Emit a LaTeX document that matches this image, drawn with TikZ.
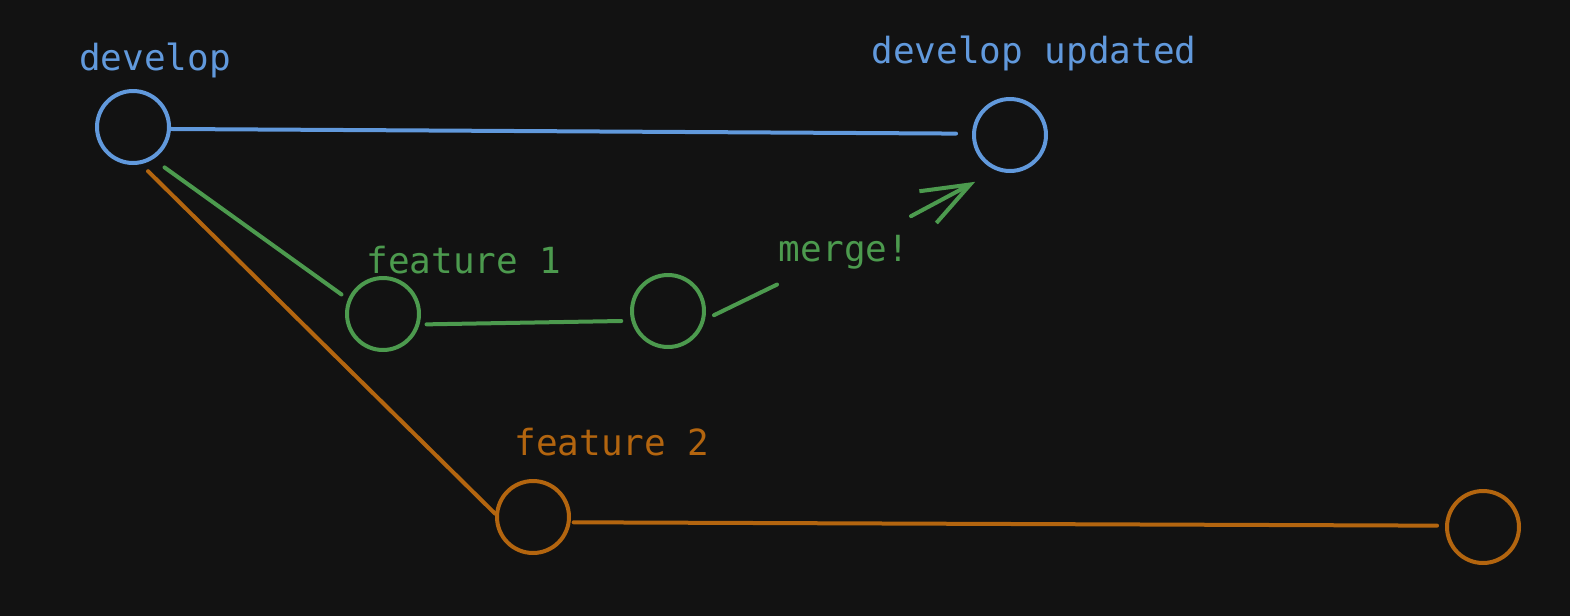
\documentclass[tikz,border=0pt]{standalone}
\usepackage{fontspec}
\setmonofont{DejaVu Sans Mono}
\usetikzlibrary{arrows.meta}
\definecolor{bg}{HTML}{121212}
\definecolor{devblue}{HTML}{6199DC}
\definecolor{featgreen}{HTML}{4C9A4E}
\definecolor{featorange}{HTML}{B3650F}
\begin{document}
\begin{tikzpicture}[x=0.5pt,y=-0.5pt,line width=2pt,line cap=round,
    commit/.style={circle,draw,minimum size=36pt,inner sep=0pt},
    label/.style={anchor=base,font=\ttfamily\fontsize{18}{20}\selectfont}]
		\fill[bg] (0,0) rectangle (1570,616);
		\useasboundingbox (0,0) rectangle (1570,616);
		% commits
		\node[commit,devblue] (dev) at (133,127) {};
		\node[commit,devblue] (upd) at (1010,135) {};
		\node[commit,featgreen] (f1a) at (383,314) {};
		\node[commit,featgreen] (f1b) at (668,311) {};
		\node[commit,featorange] (f2a) at (533,517) {};
		\node[commit,featorange] (f2b) at (1483,527) {};
		% labels
		\node[label,devblue] (devlbl) at (155,70) {develop};
		\node[label,devblue] (updlbl) at (1034,63) {develop updated};
		\node[label,featgreen] (f1lbl) at (464,273) {feature 1};
		\node[label,featorange] (f2lbl) at (612,455) {feature 2};
		\node[featgreen,font=\ttfamily\fontsize{18}{20}\selectfont,minimum width=64pt,minimum height=34pt,inner sep=0pt] (merge) at (844,252) {merge!};
		% branches
		\draw[devblue,shorten >=8pt] (dev.-3) -- (upd.178);
		\draw[featgreen,shorten <=7pt,shorten >=4pt] (dev.-58) -- (f1a.157);
		\draw[featgreen,shorten <=3.5pt,shorten >=5pt] (f1a.-16) -- (f1b.195);
		\draw[featorange,shorten <=5pt] (dev.-78) -- (f2a.175);
		\draw[featorange,shorten <=1.5pt,shorten >=4pt] (f2a.-8) -- (f2b.178);
		% merge arrow
		\draw[featgreen,shorten <=5pt] (f1b.-13) -- (merge);
		\draw[featgreen,-{Straight Barb[length=24pt,width=18pt]},shorten >=12pt] (merge) -- (upd.-111);
\end{tikzpicture}
\end{document}
